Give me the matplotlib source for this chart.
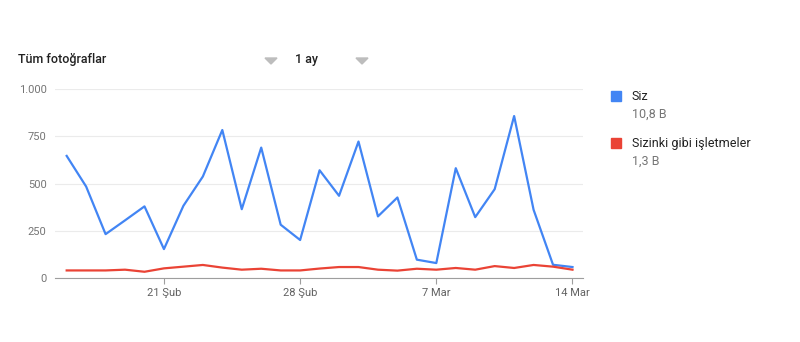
import numpy as np
import matplotlib
matplotlib.use("Agg")
import matplotlib.pyplot as plt
import matplotlib.dates as mdates
from matplotlib.patches import Polygon, Rectangle

plt.rcParams['font.family'] = ['Roboto', 'DejaVu Sans']

start = np.datetime64('2021-02-16')
dates = start + np.arange(27)
siz = [646, 484, 232, 305, 379, 153, 382, 537, 783, 364, 690, 282, 201, 570,
       435, 722, 326, 426, 97, 79, 581, 322, 470, 857, 361, 70, 58]
benzer = [40, 40, 40, 44, 33, 51, 60, 69, 55, 44, 49, 40, 40, 50,
          58, 58, 44, 39, 49, 44, 53, 44, 63, 53, 69, 60, 44]
tick_dates = ['2021-02-21', '2021-02-28', '2021-03-07', '2021-03-14']
tick_labels = ['21 Şub', '28 Şub', '7 Mar', '14 Mar']
y_ticks = [0, 250, 500, 750, 1000]
y_labels = ['0', '250', '500', '750', '1.000']
series_names = ['Siz', 'Sizinki gibi işletmeler']
series_totals = ['10,8 B', '1,3 B']
colors = ['#4285F4', '#EA4335']

W, H = 800, 342
fig = plt.figure(figsize=(8, 3.42), dpi=100)
ax = fig.add_axes([55 / W, 1 - 278 / H, (583 - 55) / W, (278 - 89) / H])

x = mdates.date2num(dates.astype('datetime64[D]').astype(object))
ax.plot(x, siz, color=colors[0], lw=1.6, zorder=3)
ax.plot(x, benzer, color=colors[1], lw=1.6, zorder=3)

ax.set_xlim(x[0] - 0.6, x[-1] + 0.54)
ax.set_ylim(0, 1000)

tx = mdates.date2num([np.datetime64(d).astype(object) for d in tick_dates])
ax.set_xticks(tx)
ax.set_xticklabels(tick_labels)
ax.set_yticks(y_ticks)
ax.set_yticklabels(y_labels)
ax.tick_params(axis='x', colors='#9e9e9e', labelcolor='#616161', labelsize=8, length=4, width=0.8, pad=3)
ax.tick_params(axis='y', length=0, labelcolor='#757575', labelsize=8, pad=6)
for s in ['top', 'right', 'left']:
    ax.spines[s].set_visible(False)
ax.spines['bottom'].set_color('#9e9e9e')
ax.spines['bottom'].set_linewidth(0.8)
ax.grid(axis='y', color='#ebebeb', lw=0.8)
ax.set_axisbelow(True)

# header
fig.text(18 / W, 1 - 60 / H, 'Tüm fotoğraflar', fontsize=9, color='#212121', va='center', ha='left', fontweight='medium')
fig.text(295 / W, 1 - 60 / H, '1 ay', fontsize=9, color='#212121', va='center', ha='left', fontweight='medium')
for cx in [271, 362]:
    tri = Polygon([((cx - 6) / W, 1 - 58 / H), ((cx + 6) / W, 1 - 58 / H), (cx / W, 1 - 64 / H)],
                  closed=True, transform=fig.transFigure, color='#bdbdbd')
    fig.patches.append(tri)

# legend
for i, (nm, tot) in enumerate(zip(series_names, series_totals)):
    yc = 96 + i * 47
    fig.patches.append(Rectangle((611 / W, 1 - (yc + 5) / H), 10 / W, 10 / H,
                                 transform=fig.transFigure, color=colors[i]))
    fig.text(632 / W, 1 - yc / H, nm, fontsize=9, color='#212121', va='center', ha='left')
    fig.text(632 / W, 1 - (yc + 18) / H, tot, fontsize=9, color='#757575', va='center', ha='left')

fig.savefig('out.png', dpi=100)
